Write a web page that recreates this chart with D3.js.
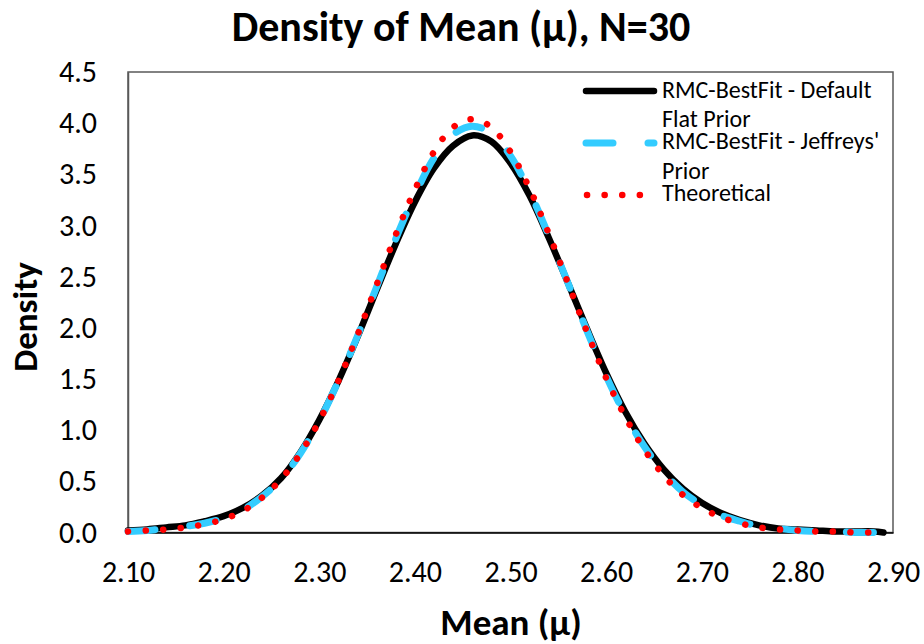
<!DOCTYPE html>
<html>
<head>
<meta charset="utf-8">
<script src="https://cdn.jsdelivr.net/npm/d3@7"></script>
<style>
  html, body { margin: 0; padding: 0; background: #fff; }
  svg { display: block; }
</style>
</head>
<body>
<div id="chart"></div>
<script>
// Valeurs
const xs = [2.10, 2.12, 2.14, 2.16, 2.18, 2.20, 2.22, 2.24, 2.26, 2.28, 2.30, 2.32, 2.34, 2.36,
  2.38, 2.40, 2.42, 2.44, 2.46, 2.48, 2.50, 2.52, 2.54, 2.56, 2.58, 2.60, 2.62, 2.64, 2.66,
  2.68, 2.70, 2.72, 2.74, 2.76, 2.78, 2.80, 2.82, 2.84, 2.86, 2.88, 2.89];

const flatPrior = [0.02, 0.03, 0.05, 0.07, 0.11, 0.16, 0.24, 0.36, 0.53, 0.78, 1.10, 1.48, 1.91, 2.37,
  2.82, 3.23, 3.56, 3.78, 3.88, 3.82, 3.61, 3.29, 2.88, 2.44, 1.99, 1.56, 1.18, 0.87, 0.62,
  0.43, 0.29, 0.19, 0.12, 0.07, 0.04, 0.03, 0.02, 0.01, 0.01, 0.01, 0.00];

const jeffreys = [0.01, 0.02, 0.04, 0.06, 0.09, 0.14, 0.22, 0.35, 0.52, 0.77, 1.09, 1.48, 1.92, 2.40,
  2.87, 3.30, 3.66, 3.89, 3.97, 3.90, 3.68, 3.33, 2.90, 2.44, 1.97, 1.53, 1.15, 0.84, 0.59,
  0.40, 0.27, 0.17, 0.11, 0.06, 0.04, 0.02, 0.01, 0.01, 0.00, 0.00, 0.00];

const theoretical = [0.01, 0.02, 0.03, 0.05, 0.08, 0.13, 0.21, 0.34, 0.52, 0.77, 1.09, 1.48, 1.93, 2.42,
  2.91, 3.35, 3.72, 3.96, 4.04, 3.96, 3.72, 3.36, 2.92, 2.44, 1.96, 1.51, 1.13, 0.81, 0.56,
  0.37, 0.24, 0.15, 0.09, 0.05, 0.03, 0.02, 0.01, 0.01, 0.00, 0.00, 0.00];

const xTicks = [2.1, 2.2, 2.3, 2.4, 2.5, 2.6, 2.7, 2.8, 2.9];
const yTicks = [0, 0.5, 1, 1.5, 2, 2.5, 3, 3.5, 4, 4.5];

const FONT = "Carlito, 'Open Sans', sans-serif";
const width = 924, height = 644;
const margin = { top: 72, right: 31, bottom: 111.5, left: 128 };
const W = width - margin.left - margin.right;
const H = height - margin.top - margin.bottom;

const svg = d3.select("#chart").append("svg")
  .attr("width", width)
  .attr("height", height)
  .attr("font-family", FONT);

const g = svg.append("g").attr("transform", `translate(${margin.left},${margin.top})`);

const x = d3.scaleLinear().domain([2.1, 2.9]).range([0, W]);
const y = d3.scaleLinear().domain([0, 4.5]).range([H, 0]);

// Cadre de la zone de tracé
g.append("rect")
  .attr("x", 0).attr("y", 0)
  .attr("width", W).attr("height", H)
  .attr("fill", "none")
  .attr("stroke", "#595959")
  .attr("stroke-width", 1.5);

// Axe X
g.append("g")
  .attr("transform", `translate(0,${H})`)
  .call(d3.axisBottom(x).tickValues(xTicks).tickFormat(d3.format(".2f")).tickSize(0).tickPadding(28))
  .call(ax => ax.select(".domain").attr("stroke", "#000").attr("stroke-width", 1.5))
  .selectAll("text")
  .attr("fill", "#000")
  .attr("font-size", "30px")
  .attr("font-family", FONT);

// Axe Y
g.append("g")
  .call(d3.axisLeft(y).tickValues(yTicks).tickFormat(d3.format(".1f")).tickSize(0).tickPadding(31))
  .call(ax => ax.select(".domain").attr("stroke", "#595959").attr("stroke-width", 1.5))
  .selectAll("text")
  .attr("fill", "#000")
  .attr("font-size", "30px")
  .attr("font-family", FONT);

const line = vals => d3.line()
  .x((d, i) => x(xs[i]))
  .y(d => y(d))
  .curve(d3.curveCatmullRom)(vals);

// Courbes
g.append("path")
  .attr("d", line(flatPrior))
  .attr("fill", "none")
  .attr("stroke", "#000")
  .attr("stroke-width", 6.5)
  .attr("stroke-linecap", "round")
  .attr("stroke-linejoin", "round");

g.append("path")
  .attr("d", line(jeffreys))
  .attr("fill", "none")
  .attr("stroke", "#33CCFF")
  .attr("stroke-width", 7)
  .attr("stroke-dasharray", "27,35")
  .attr("stroke-linecap", "round");

g.append("path")
  .attr("d", line(theoretical))
  .attr("fill", "none")
  .attr("stroke", "#FF0000")
  .attr("stroke-width", 6.5)
  .attr("stroke-dasharray", "0.1,17.5")
  .attr("stroke-linecap", "round");

// Légende
const lg = svg.append("g").attr("font-size", "24px").attr("fill", "#000");
lg.append("line").attr("x1", 586).attr("x2", 654).attr("y1", 91).attr("y2", 91)
  .attr("stroke", "#000").attr("stroke-width", 6.5).attr("stroke-linecap", "round");
lg.append("line").attr("x1", 586).attr("x2", 654).attr("y1", 143).attr("y2", 143)
  .attr("stroke", "#33CCFF").attr("stroke-width", 7).attr("stroke-dasharray", "27,35")
  .attr("stroke-linecap", "round");
lg.append("line").attr("x1", 587).attr("x2", 654).attr("y1", 195).attr("y2", 195)
  .attr("stroke", "#FF0000").attr("stroke-width", 6.5).attr("stroke-dasharray", "0.1,17.5")
  .attr("stroke-linecap", "round");

const legendLines = [
  ["RMC-BestFit - Default", 98],
  ["Flat Prior", 126.5],
  ["RMC-BestFit - Jeffreys'", 149],
  ["Prior", 179],
  ["Theoretical", 201]
];
lg.selectAll("text.leg")
  .data(legendLines)
  .enter().append("text")
  .attr("class", "leg")
  .attr("x", 662)
  .attr("y", d => d[1])
  .text(d => d[0]);

// Titres
svg.append("text")
  .attr("x", 461).attr("y", 41)
  .attr("text-anchor", "middle")
  .attr("font-size", "42px")
  .attr("font-weight", "700")
  .text("Density of Mean (μ), N=30");

svg.append("text")
  .attr("x", 511).attr("y", 635)
  .attr("text-anchor", "middle")
  .attr("font-size", "37px")
  .attr("font-weight", "700")
  .text("Mean (μ)");

svg.append("text")
  .attr("transform", `translate(37,317) rotate(-90)`)
  .attr("text-anchor", "middle")
  .attr("font-size", "35px")
  .attr("font-weight", "700")
  .text("Density");
</script>
</body>
</html>
